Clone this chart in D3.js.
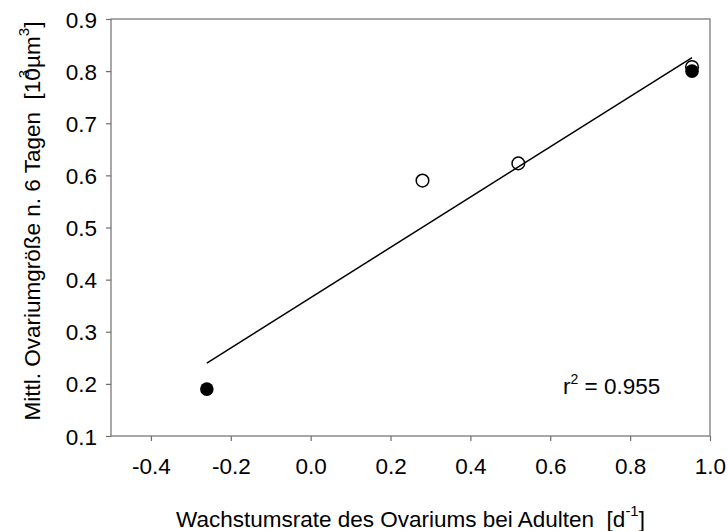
<!DOCTYPE html>
<html>
<head>
<meta charset="utf-8">
<script src="https://cdn.jsdelivr.net/npm/d3@7/dist/d3.min.js"></script>
<style>
html,body{margin:0;padding:0;background:#fff;}
svg text{font-family:"Liberation Sans",Arial,sans-serif;fill:#000;}
</style>
</head>
<body>
<svg id="chart" width="728" height="531"></svg>
<script>
// Data
const xTicks = [-0.4, -0.2, 0.0, 0.2, 0.4, 0.6, 0.8, 1.0];
const yTicks = [0.1, 0.2, 0.3, 0.4, 0.5, 0.6, 0.7, 0.8, 0.9];
const filledX = [-0.26, 0.955];
const filledY = [0.19, 0.80];
const openX = [0.28, 0.52, 0.955];
const openY = [0.59, 0.623, 0.808];
const fitX = [-0.26, 0.955];
const fitY = [0.24, 0.826];
const r2Label = "0.955";

const m = {left: 111, right: 710, top: 19, bottom: 436};
const svg = d3.select("#chart");
const x = d3.scaleLinear().domain([-0.5, 1.0]).range([m.left, m.right]);
const y = d3.scaleLinear().domain([0.1, 0.9]).range([m.bottom, m.top]);

const frameColor = "#6e6e6e";
const fs = 22.5;

// frame
svg.append("rect").attr("x", m.left).attr("y", m.top)
  .attr("width", m.right - m.left).attr("height", m.bottom - m.top)
  .attr("fill", "none").attr("stroke", frameColor).attr("stroke-width", 1.2);

// x axis
const xAxis = svg.append("g").attr("transform", `translate(0,${m.bottom})`)
  .call(d3.axisBottom(x).tickValues(xTicks).tickFormat(d3.format(".1f")).tickSize(5).tickPadding(17));
// y axis
const yAxis = svg.append("g").attr("transform", `translate(${m.left},0)`)
  .call(d3.axisLeft(y).tickValues(yTicks).tickFormat(d3.format(".1f")).tickSize(5).tickPadding(9));
[xAxis, yAxis].forEach(g => {
  g.select(".domain").remove();
  g.selectAll(".tick line").attr("stroke", frameColor).attr("stroke-width", 1.2);
  g.selectAll(".tick text").attr("font-size", fs).attr("fill", "#000")
    .style("font-family", "'Liberation Sans', Arial, sans-serif");
});
xAxis.selectAll(".tick text").text(d => d3.format(".1f")(d).replace("−", "-"));
yAxis.selectAll(".tick text").attr("dy", "0.36em");

// regression line
svg.append("path")
  .datum(fitX.map((d, i) => [d, fitY[i]]))
  .attr("d", d3.line().x(d => x(d[0])).y(d => y(d[1])))
  .attr("stroke", "#000").attr("stroke-width", 1.5).attr("fill", "none");

// filled points
svg.append("g").selectAll("circle")
  .data(filledX.map((d, i) => [d, filledY[i]]))
  .join("circle")
  .attr("cx", d => x(d[0])).attr("cy", d => y(d[1])).attr("r", 6.8)
  .attr("fill", "#000");

// open points
svg.append("g").selectAll("circle")
  .data(openX.map((d, i) => [d, openY[i]]))
  .join("circle")
  .attr("cx", d => x(d[0])).attr("cy", d => y(d[1])).attr("r", 6.3)
  .attr("fill", "none").attr("stroke", "#000").attr("stroke-width", 1.5);

// r^2 label
const rt = svg.append("text").attr("x", 563).attr("y", 394).attr("font-size", fs);
rt.append("tspan").text("r");
rt.append("tspan").attr("font-size", 14).attr("dy", -10).text("2");
rt.append("tspan").attr("dy", 10).text(" = " + r2Label);

// x title
const xt = svg.append("text").attr("x", (m.left + m.right) / 2).attr("y", 527)
  .attr("text-anchor", "middle").attr("font-size", fs);
xt.append("tspan").text("Wachstumsrate des Ovariums bei Adulten\u00a0\u00a0[d");
xt.append("tspan").attr("font-size", 15).attr("dy", -11).text("-1");
xt.append("tspan").attr("dy", 11).text("]");

// y title
const yt = svg.append("text")
  .attr("transform", `translate(40,${221}) rotate(-90)`)
  .attr("text-anchor", "middle").attr("font-size", fs);
yt.append("tspan").text("Mittl. Ovariumgröße n. 6 Tagen\u00a0\u00a0[10");
yt.append("tspan").attr("font-size", 15).attr("dx", -10).attr("dy", -11).text("3");
yt.append("tspan").attr("dy", 11).attr("dx", 2).text("µm");
yt.append("tspan").attr("font-size", 15).attr("dy", -11).text("3");
yt.append("tspan").attr("dy", 11).text("]");
</script>
</body>
</html>
